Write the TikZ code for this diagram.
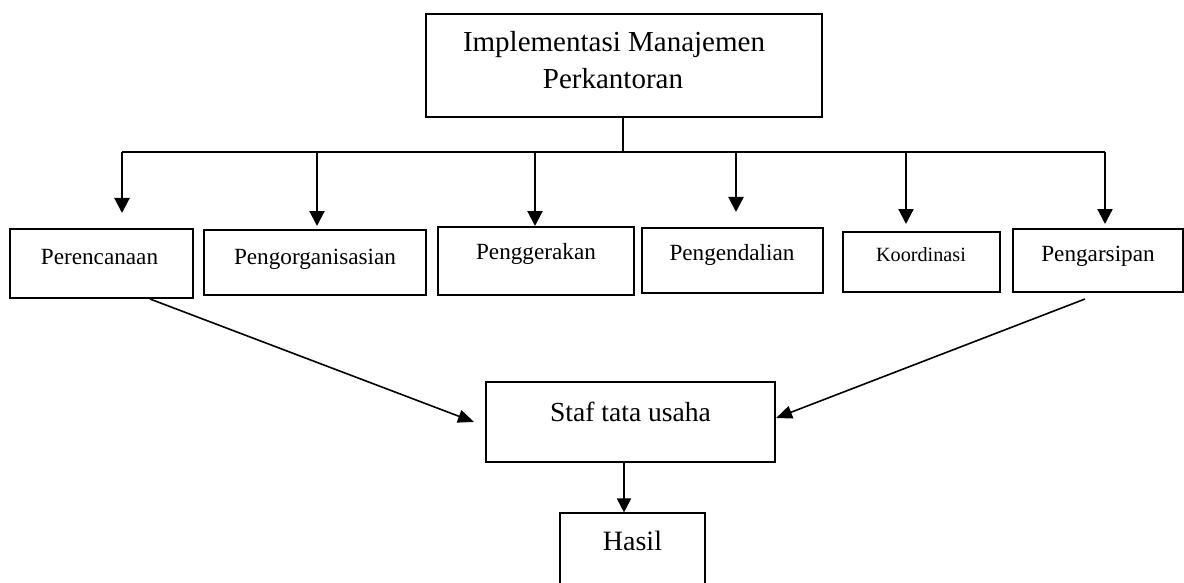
\documentclass[tikz,border=0pt]{standalone}
\usepackage{fontspec}
\setmainfont{Liberation Serif}
\usetikzlibrary{arrows.meta}
\begin{document}
\begin{tikzpicture}[x=0.5pt,y=-0.5pt,
  thickbox/.style={draw,line width=1.1pt,inner sep=0pt},
  thinbox/.style={draw,line width=0.55pt,inner sep=0pt},
  lbl/.style={anchor=base,inner sep=0pt,font=\fontsize{11.6}{14}\selectfont},
  conn/.style={line width=1.1pt},
  arr/.style={line width=1.1pt,-{Triangle[length=7.5pt,width=7.5pt]}},
  darr/.style={line width=0.8pt,-{Triangle[length=8pt,width=6.5pt]}},
  sarr/.style={line width=0.9pt,-{Triangle[length=7pt,width=7pt]}}]
\clip (0,0) rectangle (1184,583);
\useasboundingbox (0,0) rectangle (1184,583);
% boxes
\node[thickbox,minimum width=198pt,minimum height=51.5pt] (top) at (624,65.5) {};
\node[thickbox,minimum width=91.5pt,minimum height=34.5pt] (per) at (101.5,263.5) {};
\node[thickbox,minimum width=111pt,minimum height=32.5pt] (org) at (315,262.5) {};
\node[thickbox,minimum width=98pt,minimum height=34pt] (ger) at (536,261) {};
\node[thinbox,minimum width=90.5pt,minimum height=32.5pt] (end) at (732.5,260.5) {};
\node[thinbox,minimum width=78.5pt,minimum height=30pt] (koo) at (921.5,262) {};
\node[thinbox,minimum width=85pt,minimum height=31.5pt] (ars) at (1098,260.5) {};
\node[thickbox,minimum width=144.5pt,minimum height=40pt] (staf) at (630.5,422) {};
\node[thinbox,minimum width=72.5pt,minimum height=45pt] (hasil) at (632.5,558) {};
% texts
\node[lbl,font=\fontsize{14.5}{17}\selectfont] at (614,51.7) {Implementasi Manajemen};
\node[lbl,font=\fontsize{14.5}{17}\selectfont] at (613,89) {Perkantoran};
\node[lbl] at (99.5,264) {Perencanaan};
\node[lbl] at (315,264) {Pengorganisasian};
\node[lbl] at (536,259) {Penggerakan};
\node[lbl] at (732,260) {Pengendalian};
\node[lbl,font=\fontsize{10.1}{12}\selectfont] at (921,261.5) {Koordinasi};
\node[lbl] at (1098,261.5) {Pengarsipan};
\node[lbl,font=\fontsize{13.8}{16}\selectfont] at (630.5,421.7) {Staf tata usaha};
\node[lbl,font=\fontsize{14}{16}\selectfont] at (632.5,550) {Hasil};
% bus
\coordinate (bus) at (623,152);
\coordinate (bl) at (122,152);
\coordinate (br) at (1105,152);
\draw[conn] (top.south -| bus) -- (bus);
\draw[conn] (bl) -- (br);
\coordinate (t1) at (122,213);
\coordinate (t2) at (317,226);
\coordinate (t3) at (535,226);
\coordinate (t4) at (736,212);
\coordinate (t5) at (906,224);
\coordinate (t6) at (1105,224);
\draw[arr] (bl) -- (t1);
\draw[arr] (317,152) -- (t2);
\draw[arr] (535,152) -- (t3);
\draw[arr] (736,152) -- (t4);
\draw[arr] (906,152) -- (t5);
\draw[arr] (br) -- (t6);
% diagonals
\coordinate (dl) at (150,299);
\coordinate (dr) at (1085,299);
\coordinate (tl) at (474,422);
\draw[darr] (dl) -- (tl);
\draw[darr] (dr) -- (staf.east |- 0,418);
% staf -> hasil
\draw[sarr] (staf.south -| 624,0) -- (hasil.north -| 624,0);
\end{tikzpicture}
\end{document}
